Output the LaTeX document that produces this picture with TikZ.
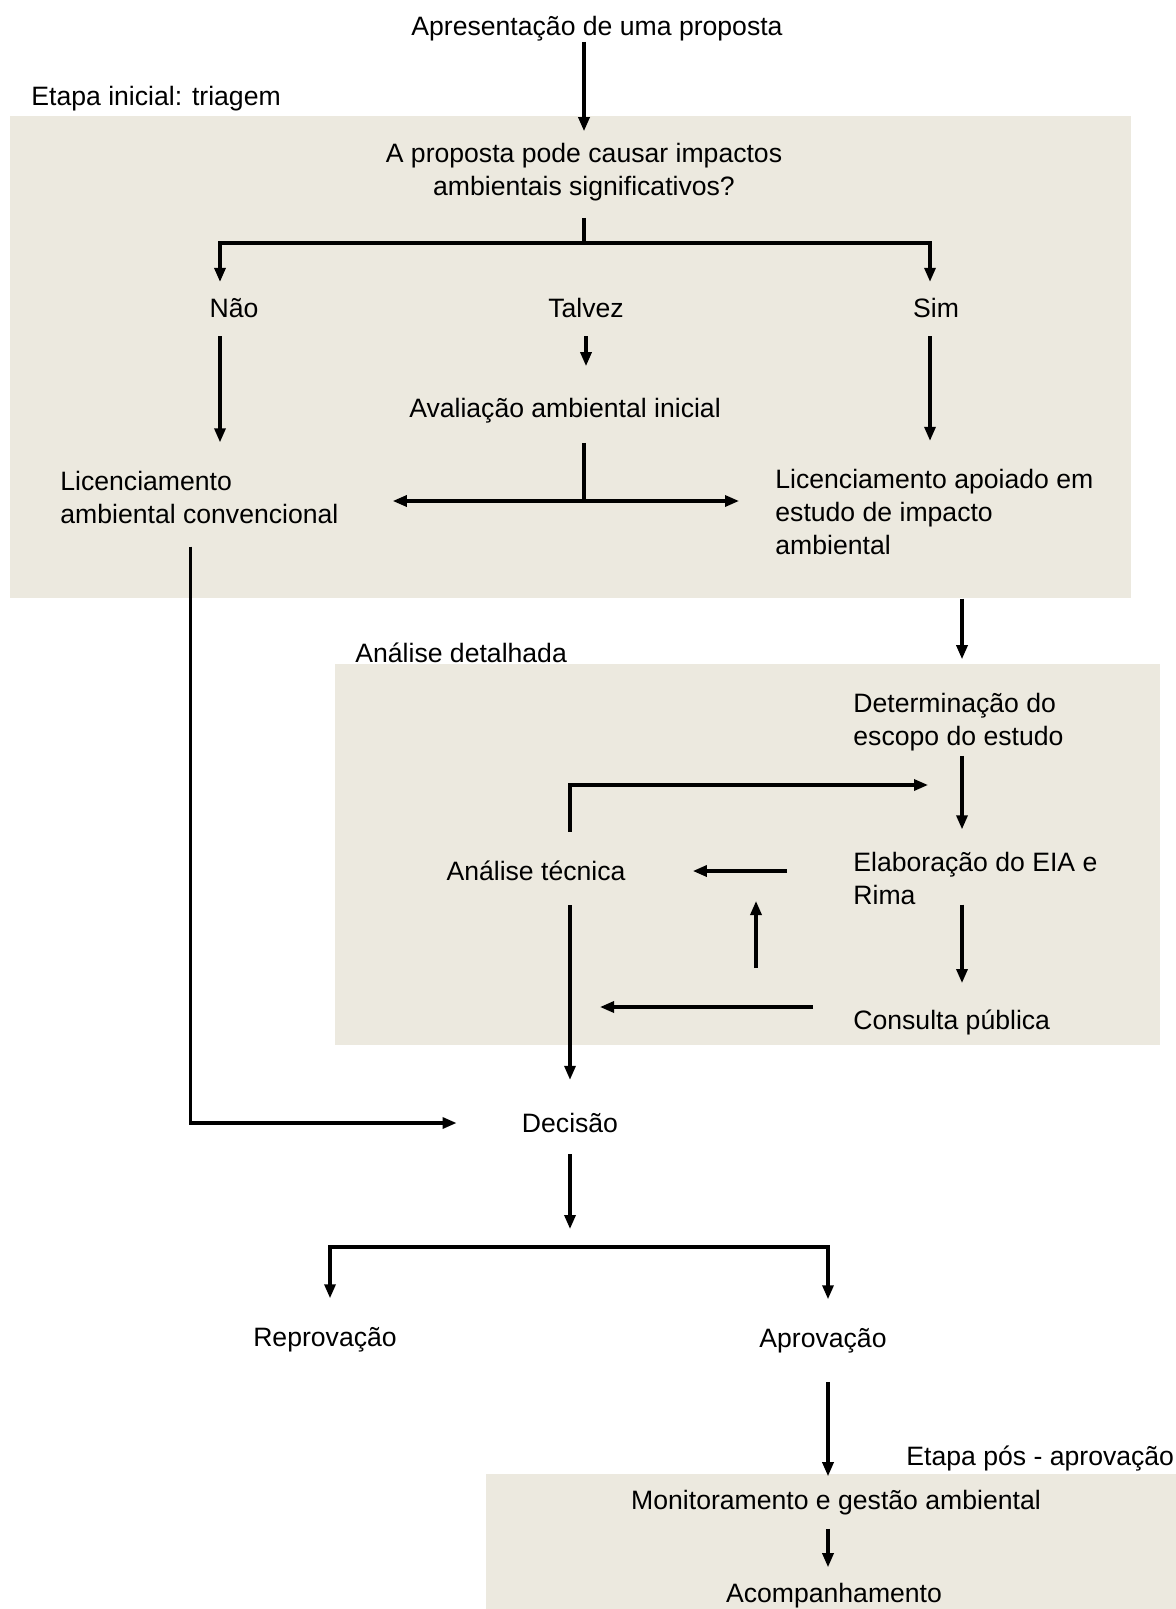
\documentclass[tikz,border=0pt]{standalone}
\usepackage{fontspec}
\setmainfont{Liberation Sans}
\usetikzlibrary{arrows.meta}
\definecolor{stagebg}{RGB}{236,233,223}
\tikzset{
  flow/.style={line width=1.6pt},
  flowarr/.style={flow, -{Triangle[length=7pt,width=5.5pt]}},
}

\begin{document}
\begin{tikzpicture}[x=0.5pt, y=-0.5pt]
  \useasboundingbox (0,0) rectangle (1176,1609);
  \fill[stagebg] (10,116) rectangle (1131,598);
  \fill[stagebg] (335,664) rectangle (1160,1045);
  \fill[stagebg] (486,1474) rectangle (1176,1609);

  \begin{scope}[every node/.style={inner sep=0pt, font=\fontsize{13.3}{16.5}\selectfont}]
    \node (prop) at (597,29) {Apresentação de uma proposta};
    \node[anchor=west] (etapa1) at (31,99) {Etapa inicial: triagem};
    \node[align=center] (q) at (584,172) {A proposta pode causar impactos\\ambientais significativos?};
    \node (nao) at (234,308) {Não};
    \node (talvez) at (586,308) {Talvez};
    \node (sim) at (936,308) {Sim};
    \node (aval) at (565,411) {Avaliação ambiental inicial};
    \node[anchor=west, align=left] (lconv) at (60,497) {Licenciamento\\ambiental convencional};
    \node[anchor=west, align=left] (leia) at (775,512) {Licenciamento apoiado em\\estudo de impacto\\ambiental};
    \node[anchor=west] (etapa2) at (355,653) {Análise detalhada};
    \node[anchor=west, align=left] (escopo) at (853,722) {Determinação do\\escopo do estudo};
    \node (tecnica) at (536,871) {Análise técnica};
    \node[anchor=west, align=left] (elab) at (853,878) {Elaboração do EIA e\\Rima};
    \node[anchor=west] (consulta) at (853,1022) {Consulta pública};
    \node (decisao) at (570,1123) {Decisão};
    \node (reprov) at (325,1340) {Reprovação};
    \node (aprov) at (823,1341) {Aprovação};
    \node[anchor=west] (etapa3) at (906,1459) {Etapa pós - aprovação};
    \node (monit) at (836,1503) {Monitoramento e gestão ambiental};
    \node (acomp) at (834,1596) {Acompanhamento};
  \end{scope}

  \coordinate (qj) at (584,243);
  \coordinate (bl) at (220,243);
  \coordinate (br) at (930,243);
  \coordinate (aj) at (584,501);
  \coordinate (col) at (962,600);
  \coordinate (fb) at (962,785);
  \coordinate (up) at (756,968);
  \coordinate (dj) at (570,1247);
  \coordinate (dl) at (330,1247);
  \coordinate (dr) at (828,1247);

  \draw[flowarr, shorten <=0pt, shorten >=5.75pt] (prop.south -| q) -- (q.north);
  \draw[flow, shorten <=8.25pt] (q.south) -- (qj);
  \draw[flowarr, shorten >=8pt] (qj) -| (bl |- nao.north);
  \draw[flowarr, shorten >=8pt] (qj) -| (br |- sim.north);
  \draw[flowarr, shorten <=9pt, shorten >=14pt] (nao.south -| bl) -- (bl |- lconv.north);
  \draw[flowarr, shorten <=9pt, shorten >=16pt] (talvez.south) -- (talvez.south |- aval.north);
  \draw[flowarr, shorten <=9pt, shorten >=14pt] (sim.south -| br) -- (br |- leia.north);
  \draw[flow, shorten <=9.5pt] (aval.south -| aj) -- (aj);
  \draw[flowarr, shorten >=27pt] (aj) -- (lconv.east |- aj);
  \draw[flowarr, shorten >=18pt] (aj) -- (leia.west |- aj);
  \draw[flowarr, shorten <=11.5pt, shorten >=32.5pt] ([xshift=-4.5pt]lconv.south) |- (decisao.west);

  \draw[flowarr, shorten <=21.75pt, shorten >=16.75pt] (leia.south -| col) -- (col |- escopo.north);
  \draw[flowarr, shorten <=2.25pt, shorten >=11pt] (escopo.south -| col) -- (col |- elab.north);
  \draw[flowarr, shorten >=13pt] (elab.south -| col) -- (col |- consulta.north);
  \draw[flowarr, shorten <=33pt, shorten >=33.5pt] (elab.west |- tecnica) -- (tecnica.east);
  \draw[flowarr, shorten <=20pt, shorten >=15pt] ([yshift=7.5pt]consulta.west) -- ([yshift=7.5pt]consulta.west -| decisao);
  \draw[flowarr, shorten >=15pt] (up) -- (up |- tecnica);
  \draw[flowarr, shorten <=14.5pt, shorten >=17pt] (tecnica.north -| decisao) |- (fb);
  \draw[flowarr, shorten <=12pt, shorten >=16.5pt] (tecnica.south -| decisao) -- (decisao.north);

  \draw[flowarr, shorten <=10.5pt, shorten >=9pt] (decisao.south) -- (dj);
  \draw[flowarr, shorten >=14.5pt] (dj) -| (dl |- reprov.north);
  \draw[flowarr, shorten >=14.5pt] (dj) -| (dr |- aprov.north);
  \draw[flowarr, shorten <=14pt, shorten >=7pt] (aprov.south -| dr) -- (dr |- monit.north);
  \draw[flowarr, shorten <=6.5pt, shorten >=8pt] (monit.south -| dr) -- (dr |- acomp.north);
\end{tikzpicture}
\end{document}
